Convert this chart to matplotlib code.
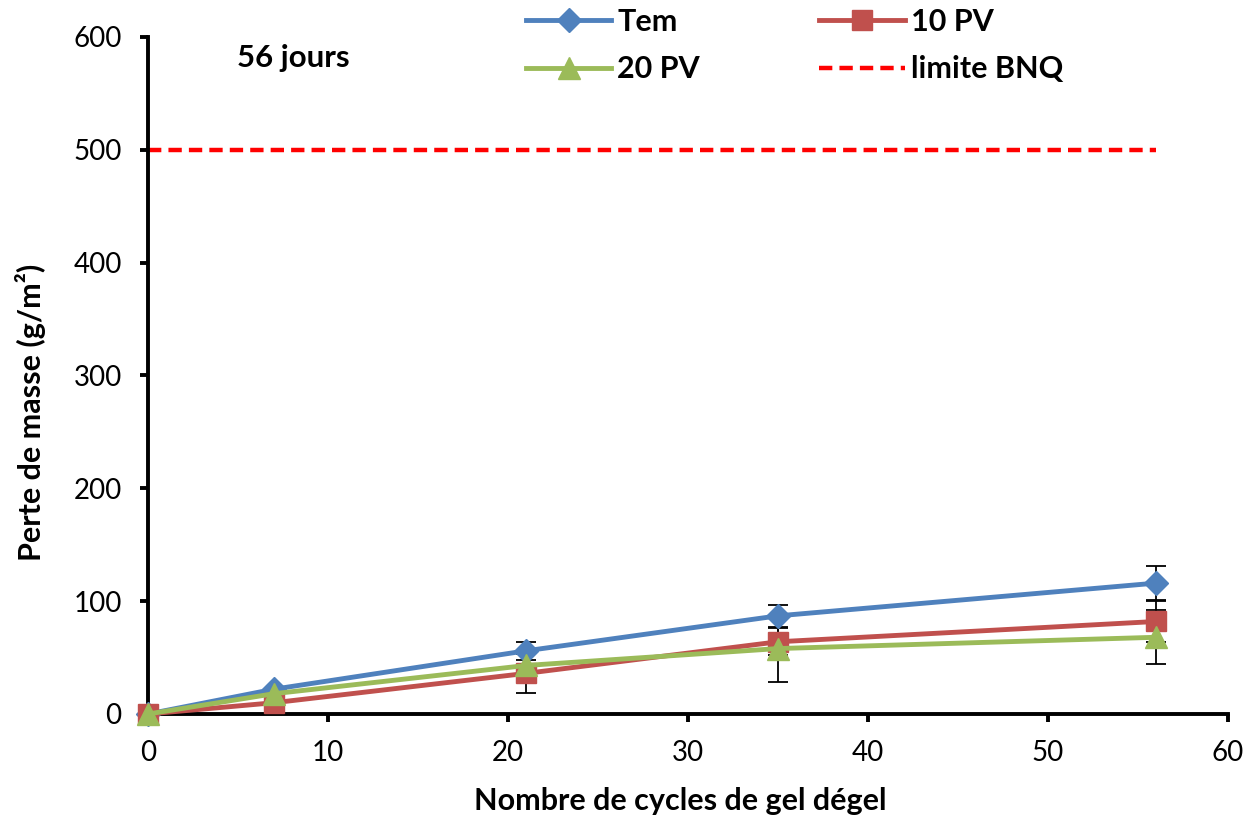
import matplotlib
matplotlib.use("Agg")
import matplotlib.pyplot as plt
from matplotlib.lines import Line2D

cycles = [0, 7, 21, 35, 56]
tem = [0, 22, 56, 87, 116]
tem_err = [0, 0, 8, 10, 15]
pv10 = [0, 10, 36, 64, 82]
pv10_err = [0, 0, 17, 12, 18]
pv20 = [0, 18, 43, 58, 68]
pv20_err = [0, 0, 0, 30, 24]
limite_x = [0, 56]
limite_y = [500, 500]

plt.rcParams['font.family'] = ['Lato', 'DejaVu Sans']

fig = plt.figure(figsize=(12.51, 8.16), dpi=100)
ax = fig.add_axes([0.1183, 0.125, 0.8633, 0.8297])

lw = 3.5
styles = [
    ('Tem', tem, tem_err, '#4F81BD', 'D', 12),
    ('10 PV', pv10, pv10_err, '#C0504D', 's', 14),
    ('20 PV', pv20, pv20_err, '#9BBB59', '^', 16),
]
handles = {}
for name, vals, err, col, mk, ms in styles:
    ax.errorbar(cycles, vals, yerr=err, fmt='none', ecolor='black', elinewidth=1.3,
                capsize=7, capthick=1.3, zorder=2)
    ax.plot(cycles, vals, color=col, lw=lw, marker=mk, ms=ms, zorder=3, clip_on=False)
    handles[name] = Line2D([], [], color=col, lw=lw, marker=mk, ms=ms)
ax.plot(limite_x, limite_y, color='#FF0000', lw=3.2, ls=(0, (3, 1.6)), zorder=2)
handles['limite BNQ'] = Line2D([], [], color='#FF0000', lw=3.2, ls=(0, (3, 1.6)))

ax.set_xlim(0, 60)
ax.set_ylim(0, 600)
ax.set_xticks(range(0, 61, 10))
ax.set_yticks(range(0, 601, 100))
ax.spines['top'].set_visible(False)
ax.spines['right'].set_visible(False)
ax.spines['left'].set_linewidth(2.8)
ax.spines['bottom'].set_linewidth(2.8)
ax.tick_params(axis='both', direction='out', width=2.8, length=6, labelsize=20, pad=13)

ax.set_xlabel('Nombre de cycles de gel dégel', fontsize=22, fontweight='bold')
ax.set_ylabel('Perte de masse (g/m²)', fontsize=22, fontweight='bold')
ax.xaxis.set_label_coords(0.4926, -0.108)
ax.yaxis.set_label_coords(-0.094, 0.446)

ax.text(0.082, 0.99, '56 jours', transform=ax.transAxes, fontsize=22.5, fontweight='bold',
        ha='left', va='top')

order = ['Tem', '20 PV', '10 PV', 'limite BNQ']
ax.legend([handles[k] for k in order], order, ncol=2,
          loc='upper left', bbox_to_anchor=(0.33, 1.075), frameon=False,
          prop={'size': 22, 'weight': 'bold'}, columnspacing=3.9,
          handlelength=2.8, handletextpad=0.2, labelspacing=0.65, borderpad=0.2)

fig.savefig('out.png', dpi=100)
